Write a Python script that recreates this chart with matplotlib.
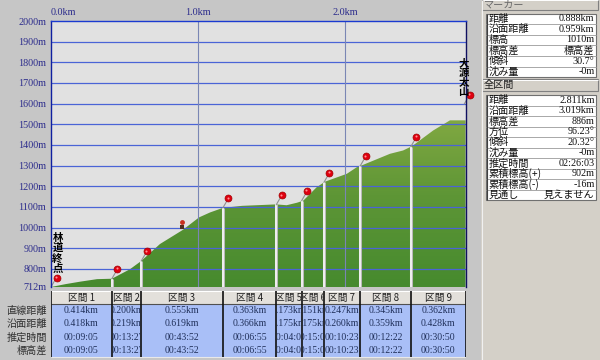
import numpy as np
import matplotlib
matplotlib.use('Agg')
import matplotlib.pyplot as plt
from matplotlib.transforms import offset_copy, Bbox
from matplotlib.patches import Rectangle, Polygon
from matplotlib.colors import LinearSegmentedColormap

# ---------------- data ----------------
dist_km = [0.0, 0.10, 0.20, 0.313, 0.414, 0.537, 0.614, 0.741, 0.898, 1.007,
           1.082, 1.169, 1.30, 1.532, 1.603, 1.673, 1.716, 1.807, 1.864, 2.012,
           2.080, 2.111, 2.306, 2.395, 2.456, 2.600, 2.714, 2.820]
elev_m = [712, 726, 738, 750, 752, 798, 838, 920, 989, 1049,
          1073, 1095, 1105, 1112, 1108, 1120, 1130, 1195, 1222, 1260,
          1292, 1300, 1357, 1373, 1394, 1470, 1519, 1519]

pin_km = [0.0, 0.414, 0.614, 1.169, 1.532, 1.705, 1.856, 2.103, 2.448, 2.811]
pin_elev = [712, 752, 838, 1095, 1110, 1130, 1218, 1298, 1392, 1598]
marker_km = 0.888
marker_elev = 1010

start_label = "林道終点"
end_label = "大源太山"

y_ticks = [712, 800, 900, 1000, 1100, 1200, 1300, 1400, 1500, 1600, 1700, 1800, 1900, 2000]
x_ticks = [0.0, 1.0, 2.0]
x_tick_labels = ["0.0km", "1.0km", "2.0km"]

seg_names = ["区間 1", "区間 2", "区間 3", "区間 4", "区間 5", "区間 6", "区間 7", "区間 8", "区間 9"]
seg_straight_km = [0.414, 0.200, 0.555, 0.363, 0.173, 0.151, 0.247, 0.345, 0.362]
seg_straight = ["0.414km", "0.200km", "0.555km", "0.363km", "0.173km", "0.151km", "0.247km", "0.345km", "0.362km"]
seg_surface = ["0.418km", "0.219km", "0.619km", "0.366km", "0.175km", "0.175km", "0.260km", "0.359km", "0.428km"]
seg_time = ["00:09:05", "00:13:27", "00:43:52", "00:06:55", "00:04:00", "00:15:00", "00:10:23", "00:12:22", "00:30:50"]
seg_diff = ["00:09:05", "00:13:27", "00:43:52", "00:06:55", "00:04:00", "00:15:00", "00:10:23", "00:12:22", "00:30:50"]
row_labels = ["直線距離", "沿面距離", "推定時間", "標高差"]

marker_title = "マーカー"
marker_labels = ["距離", "沿面距離", "標高", "標高差", "傾斜", "沈み量"]
marker_values = ["0.888km", "0.959km", "1010m", "標高差", "30.7°", "-0m"]
total_title = "全区間"
total_labels = ["距離", "沿面距離", "標高差", "方位", "傾斜", "沈み量", "推定時間",
                "累積標高(+)", "累積標高(-)", "見通し"]
total_values = ["2.811km", "3.019km", "886m", "96.23°", "20.32°", "-0m", "02:26:03",
                "902m", "-16m", "見えません"]

# ---------------- styling ----------------
CJK = ['Noto Sans CJK JP', 'DejaVu Sans']
NUM = ['Liberation Serif', 'Noto Sans CJK JP', 'DejaVu Sans']
BG = '#c6c6c6'
PANEL = '#d4d0c8'
XMAX = 2.823
YMIN, YMAX = 712, 2000

W, H = 600, 360
fig = plt.figure(figsize=(6, 3.6), dpi=100, facecolor=BG)

def fx(px):
    return px / W

def fy(py):
    return 1 - py / H

# ---------------- profile axes ----------------
ax = fig.add_axes([fx(51), fy(287), (466 - 51) / W, (287 - 21) / H])
ax.set_facecolor('#e1e1e1')
ax.set_xlim(0, XMAX)
ax.set_ylim(YMIN, YMAX)

# green gradient fill clipped to the profile
verts = [(dist_km[0], YMIN)] + list(zip(dist_km, elev_m)) + [(dist_km[-1], YMIN)]
poly = Polygon(verts, closed=True, facecolor='none', edgecolor='none')
ax.add_patch(poly)
cmap = LinearSegmentedColormap.from_list('g', ['#468a2e', '#5e9636', '#88ac44'])
grad = np.linspace(0, 1, 256).reshape(-1, 1)
im = ax.imshow(grad, cmap=cmap, origin='lower', aspect='auto',
               extent=[0, XMAX, YMIN, 1600], zorder=1)
im.set_clip_path(poly)

# horizontal grid
ax.hlines(y_ticks[1:-1], 0, XMAX, colors='#4a64d6', lw=0.9, zorder=2)
# km lines
ax.vlines([1.0, 2.0], YMIN, YMAX, colors='#7a86b4', lw=0.8, zorder=2)

# segment boundary white lines
bounds = np.cumsum(seg_straight_km)[:-1]
tops = np.interp(bounds, dist_km, elev_m)
ax.vlines(bounds, YMIN, tops, colors='#b8b8b8', lw=2.2, zorder=3)
ax.vlines(bounds, YMIN, tops, colors='white', lw=1.1, zorder=3)

# pins
for k, e in zip(pin_km, pin_elev):
    ax.annotate('', xy=(k, e), xytext=(5.5, 9.5), textcoords='offset pixels',
                arrowprops=dict(arrowstyle='-', color='#909090', lw=0.8,
                                shrinkA=0, shrinkB=0),
                annotation_clip=False, zorder=4)
    tr = offset_copy(ax.transData, fig=fig, x=5.5, y=9.5, units='dots')
    ax.plot([k], [e], marker='o', ms=5, color='#e00010', mec='#a00000', mew=0.5,
            transform=tr, clip_on=False, zorder=5)
    tr2 = offset_copy(ax.transData, fig=fig, x=4.8, y=10.3, units='dots')
    ax.plot([k], [e], marker='o', ms=1.5, color='#ff9090', mew=0,
            transform=tr2, clip_on=False, zorder=6)

# hiker marker
trh = offset_copy(ax.transData, fig=fig, x=0, y=3.5, units='dots')
ax.plot([marker_km], [marker_elev], marker='o', ms=3.5, color='#c83020', mew=0,
        transform=trh, zorder=6)
trl = offset_copy(ax.transData, fig=fig, x=0, y=-1.5, units='dots')
ax.plot([marker_km], [marker_elev], marker='s', ms=2.5, color='#503020', mew=0,
        transform=trl, zorder=6)

# vertical place labels
for i, ch in enumerate(start_label):
    fig.text(fx(57.5), fy(238 + 10.2 * i), ch, family=CJK, fontsize=7.5,
             weight='bold', ha='center', va='center', color='black')
for i, ch in enumerate(end_label):
    fig.text(fx(463.5), fy(63 + 9.5 * i), ch, family=CJK, fontsize=7.5,
             weight='bold', ha='center', va='center', color='black')

# spines and ticks
ax.spines['bottom'].set_visible(False)
ax.spines['top'].set_color('#1a3ad0')
ax.spines['left'].set_color('#1020a0')
ax.spines['right'].set_color('#101060')
for s in ['top', 'left', 'right']:
    ax.spines[s].set_linewidth(1.0)
    ax.spines[s].set_zorder(7)

ax.set_yticks(y_ticks)
ax.set_yticklabels([f"{v}m" for v in y_ticks], family=NUM, fontsize=7.3,
                   color='#2c2c8c')
ax.tick_params(axis='y', length=0, pad=3.5)
ax.set_xticks(x_ticks)
ax.set_xticklabels(x_tick_labels, family=NUM, fontsize=7.3, color='#2c2c8c')
ax.tick_params(axis='x', top=True, labeltop=True, bottom=False,
               labelbottom=False, length=0, pad=3)
ax.get_xticklabels()[0].set_ha('left')

# ---------------- segment table ----------------
tax = fig.add_axes([fx(51), fy(358), (466 - 51) / W, 69 / H])
tax.set_xlim(0, XMAX)
tax.set_ylim(69, 0)
tax.axis('off')
edges = np.concatenate([[0.0], np.cumsum(seg_straight_km)])
edges[-1] = XMAX

tax.add_patch(Rectangle((0, 2), XMAX, 13, facecolor='#e3e0db', edgecolor='none'))
tax.add_patch(Rectangle((0, 15), XMAX, 53, facecolor='#a9bff7', edgecolor='none'))
tax.hlines([2], 0, XMAX, colors='white', lw=0.8)
tax.hlines([15], 0, XMAX, colors='#505050', lw=0.8)
tax.hlines([68], 0, XMAX, colors='#e8e8e8', lw=0.8)
tax.vlines(edges, 2, 68, colors='#101010', lw=1.2)

row_y = [21.7, 35.0, 48.3, 61.6]
fig.canvas.draw()
for i in range(len(seg_names)):
    x0, x1 = edges[i], edges[i + 1]
    cx = (x0 + x1) / 2
    p0 = tax.transData.transform((x0, 68))
    p1 = tax.transData.transform((x1, 2))
    bb = Bbox.from_extents(min(p0[0], p1[0]) + 1, min(p0[1], p1[1]),
                           max(p0[0], p1[0]) - 1, max(p0[1], p1[1]))
    t = tax.text(cx, 8.6, seg_names[i], family=CJK, fontsize=7, ha='center',
                 va='center', color='#202020', clip_on=True)
    t.set_clip_box(bb)
    for ry, vals in zip(row_y, [seg_straight, seg_surface, seg_time, seg_diff]):
        t = tax.text(cx, ry, vals[i], family=NUM, fontsize=7, ha='center',
                     va='center', color='#20305a', clip_on=True)
        t.set_clip_box(bb)

for lab, ry in zip(row_labels, row_y):
    fig.text(fx(47), fy(289 + ry), lab, family=CJK, fontsize=7.3, ha='right',
             va='center', color='#303030')

# ---------------- right panel ----------------
pax = fig.add_axes([fx(481), 0, (600 - 481) / W, 1])
pax.set_xlim(481, 600)
pax.set_ylim(360, 0)
pax.axis('off')
pax.add_patch(Rectangle((481, 0), 119, 360, facecolor=PANEL, edgecolor='none'))
pax.vlines([481.5], 0, 360, colors='#f0f0f0', lw=0.8)


def header(y0, h, title, color):
    pax.add_patch(Rectangle((482, y0), 116, h, facecolor=PANEL,
                            edgecolor='#808080', lw=0.8))
    pax.hlines([y0 + 0.6], 482.5, 597.5, colors='white', lw=0.7)
    pax.text(484, y0 + h / 2, title, family=CJK, fontsize=7.3, ha='left',
             va='center', color=color)


def table(y0, rh, labels, values):
    n = len(labels)
    pax.add_patch(Rectangle((486, y0), 110, rh * n, facecolor='white',
                            edgecolor='#707070', lw=0.8))
    pax.hlines([y0 + rh * k for k in range(1, n)], 486, 596,
               colors='#a8a8a8', lw=0.7)
    pax.vlines([487], y0, y0 + rh * n, colors='#404040', lw=0.8)
    for k, (lab, val) in enumerate(zip(labels, values)):
        cy = y0 + rh * k + rh / 2
        pax.text(488.5, cy, lab, family=CJK, fontsize=7.3, ha='left',
                 va='center', color='#101010')
        pax.text(594.5, cy, val, family=NUM, fontsize=7.3, ha='right',
                 va='center', color='#101010')


header(-1, 11, marker_title, '#6a6a6a')
table(13.5, 10.6, marker_labels, marker_values)
header(79, 12, total_title, '#202020')
table(95, 10.5, total_labels, total_values)

fig.savefig('out.png', dpi=100, facecolor=BG)
